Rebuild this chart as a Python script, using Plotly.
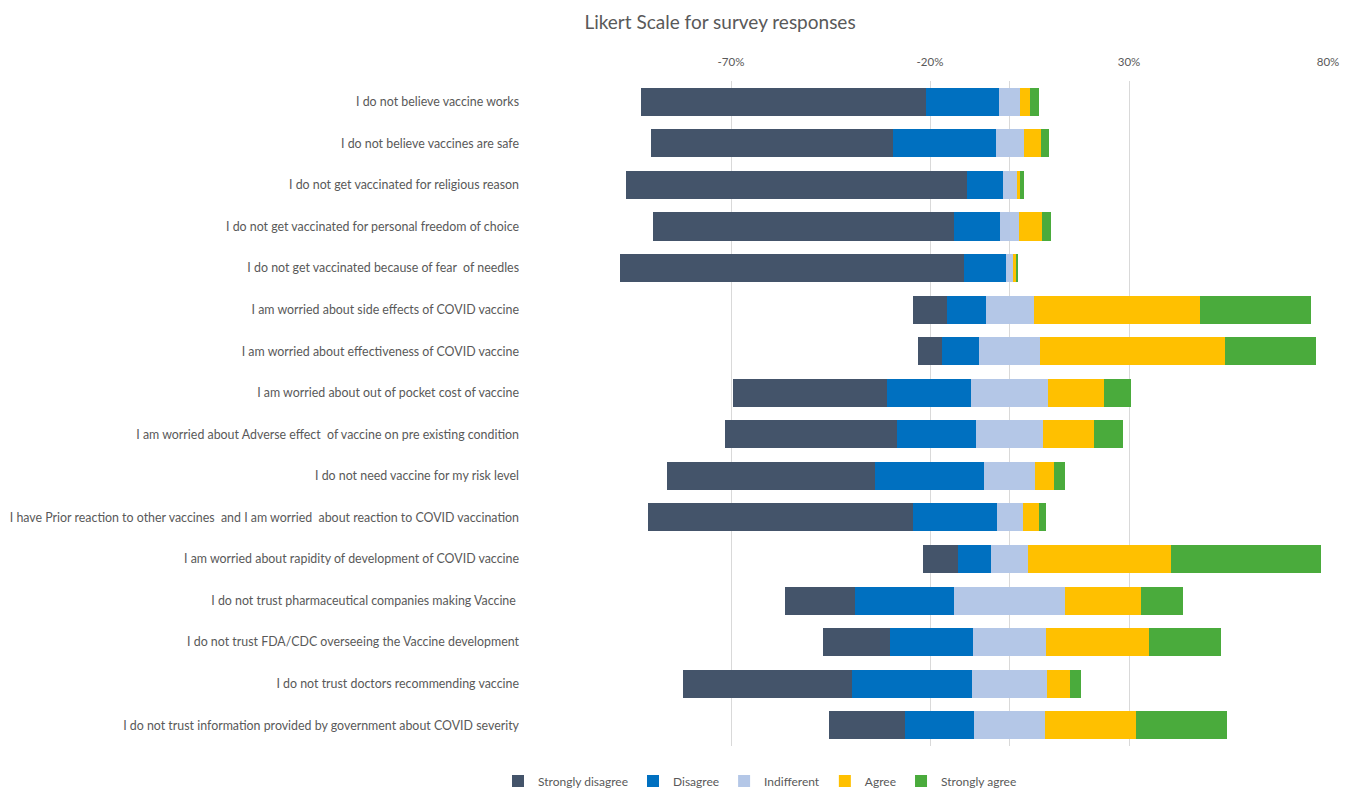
import plotly.graph_objects as go

categories = [
    "I do not believe vaccine works",
    "I do not believe vaccines are safe",
    "I do not get vaccinated for religious reason",
    "I do not get vaccinated for personal freedom of choice",
    "I do not get vaccinated because of fear  of needles",
    "I am worried about side effects of COVID vaccine",
    "I am worried about effectiveness of COVID vaccine",
    "I am worried about out of pocket cost of vaccine",
    "I am worried about Adverse effect  of vaccine on pre existing condition",
    "I do not need vaccine for my risk level",
    "I have Prior reaction to other vaccines  and I am worried  about reaction to COVID vaccination",
    "I am worried about rapidity of development of COVID vaccine",
    "I do not trust pharmaceutical companies making Vaccine ",
    "I do not trust FDA/CDC overseeing the Vaccine development",
    "I do not trust doctors recommending vaccine",
    "I do not trust information provided by government about COVID severity",
]

strongly_disagree = [71.7, 61.0, 85.6, 75.6, 86.3, 8.4, 6.1, 38.5, 43.3, 52.3, 66.6, 9.0, 17.6, 17.0, 42.4, 19.1]
disagree          = [18.3, 25.7, 9.0, 11.5, 10.7, 9.8, 9.3, 21.2, 19.7, 27.3, 21.1, 8.2, 24.9, 20.9, 30.1, 17.4]
indifferent       = [5.4, 7.0, 3.5, 4.8, 1.7, 12.1, 15.4, 19.4, 17.0, 12.9, 6.5, 9.3, 27.8, 18.2, 18.9, 17.7]
agree             = [2.5, 4.3, 0.9, 5.7, 1.0, 41.7, 46.5, 14.0, 12.8, 4.8, 4.1, 35.8, 19.0, 26.0, 5.6, 22.9]
strongly_agree    = [2.1, 2.0, 1.0, 2.4, 0.3, 28.0, 22.7, 6.9, 7.2, 2.7, 1.7, 37.7, 10.7, 17.9, 3.0, 22.9]

series_names = ["Strongly disagree", "Disagree", "Indifferent", "Agree", "Strongly agree"]
series_values = [strongly_disagree, disagree, indifferent, agree, strongly_agree]
colors = ["#44546A", "#0070C0", "#B4C7E7", "#FFC000", "#4AAB3C"]

tick_vals = [-120, -70, -20, 30, 80]
tick_text = ["", "-70%", "-20%", "30%", "80%"]

# diverging starts: indifferent centred on zero
starts = [-(sd + d + i / 2) for sd, d, i in zip(strongly_disagree, disagree, indifferent)]

fig = go.Figure()
running = list(starts)
for name, vals, col in zip(series_names, series_values, colors):
    fig.add_trace(go.Bar(
        y=categories, x=vals, base=list(running), orientation="h",
        name=name, marker=dict(color=col, line=dict(width=0)),
        width=0.675,
    ))
    running = [r + v for r, v in zip(running, vals)]

font_family = "Lato, 'Open Sans', sans-serif"
fig.update_layout(
    barmode="overlay",
    width=1351, height=789,
    paper_bgcolor="white", plot_bgcolor="white",
    margin=dict(l=532, r=23, t=81, b=43),
    font=dict(family=font_family, color="#595959", size=11),
    title=dict(text="Likert Scale for survey responses", x=720 / 1351, xanchor="center",
               xref="container", y=1 - 22 / 789, yanchor="middle", yref="container",
               font=dict(size=19, color="#595959", family=font_family)),
    xaxis=dict(side="top", range=[-120, 80], tickvals=tick_vals, ticktext=tick_text,
               showgrid=True, gridcolor="#D9D9D9", gridwidth=1,
               zeroline=True, zerolinecolor="#D9D9D9", zerolinewidth=1,
               showline=False, ticks="", ticklabelstandoff=12,
               tickfont=dict(size=11.5, color="#595959"),
               fixedrange=True),
    yaxis=dict(categoryorder="array", categoryarray=categories, autorange="reversed",
               showgrid=False, ticks="", ticklabelstandoff=12,
               tickfont=dict(size=12.4, color="#595959"), automargin=False),
    legend=dict(orientation="h", x=760 / 1351, xanchor="center", xref="container",
                y=1 - 781 / 789, yanchor="middle", yref="container",
                font=dict(size=12, color="#595959"), itemwidth=30,
                traceorder="normal"),
    bargap=0,
)

fig.write_html("out.html")
